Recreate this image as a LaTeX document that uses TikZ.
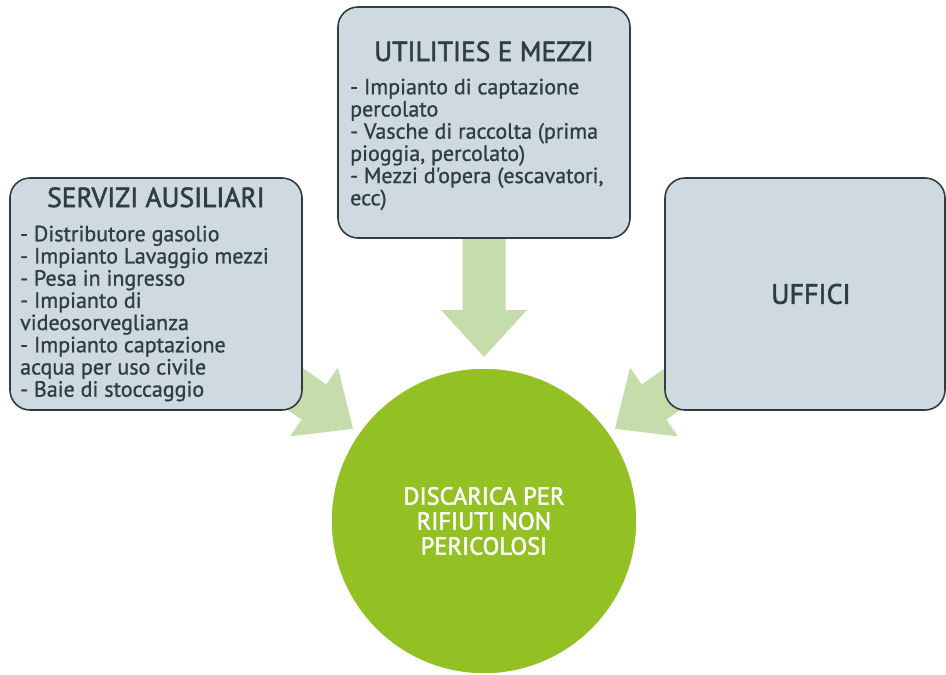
\documentclass[tikz,border=0pt]{standalone}
\usepackage{fontspec}
\setmainfont{PT Sans}
\newfontfamily\semib[FakeBold=2]{PT Sans}
\newfontfamily\itemf[FakeBold=1]{PT Sans}
\definecolor{boxfill}{HTML}{CFDAE0}
\definecolor{boxline}{HTML}{2F3D43}
\definecolor{txt}{HTML}{2F3E46}
\definecolor{arrowc}{HTML}{C5DDAA}
\definecolor{circ}{HTML}{93C123}
\begin{document}
\begin{tikzpicture}[x=1pt,y=-1pt,
  box/.style={draw=boxline, line width=1.6pt, fill=boxfill, rounded corners=20pt, inner sep=0pt},
  title/.style={font=\semib\fontsize{27.5}{30}\selectfont, text=txt, inner sep=0pt},
  items/.style={font=\itemf\fontsize{22}{22.2}\selectfont, text=txt, align=left, inner sep=0pt, anchor=north west},
  blockarrow/.style={fill=arrowc, draw=none}]
\useasboundingbox (0,0) rectangle (946,675);
% arrows
\fill[blockarrow] (484-21.5,200) -- (484+21.5,200) -- (484+21.5,310) -- (527,310) -- (484,357) -- (441,310) -- (484-21.5,310) -- cycle;
\fill[blockarrow] (194.7,345.6) -- (219.3,310.4) -- (326.3,384.4) -- (338,367.6) -- (353,428.8) -- (290,436.4) -- (301.7,419.6) -- cycle;
\fill[blockarrow] (773.3,345.6) -- (748.7,310.4) -- (641.7,384.4) -- (630,367.6) -- (615,428.8) -- (678,436.4) -- (666.3,419.6) -- cycle;
% boxes
\node[box, minimum width=292pt, minimum height=232pt] (serv) at (156,294) {};
\node[box, minimum width=292pt, minimum height=231pt] (util) at (484,122.5) {};
\node[box, minimum width=280pt, minimum height=232pt] (uff) at (805,294) {};
% circle
\node[circle, fill=circ, draw=white, line width=1.5pt, minimum size=306pt, inner sep=0pt] (disc) at (484,521) {};
% texts
\node[title, anchor=base] (servt) at (156,207) {SERVIZI AUSILIARI};
\node[items] (servi) at (20,225.5) {- Distributore gasolio\\- Impianto Lavaggio mezzi\\- Pesa in ingresso\\- Impianto di\\videosorveglianza\\- Impianto captazione\\acqua per uso civile\\- Baie di stoccaggio};
\node[title, anchor=base] (utilt) at (484,61) {UTILITIES E MEZZI};
\node[items] (utili) at (350,78.5) {- Impianto di captazione\\percolato\\- Vasche di raccolta (prima\\pioggia, percolato)\\- Mezzi d'opera (escavatori,\\ecc)};
\node[font=\semib\fontsize{28}{30}\selectfont, text=txt] (ufft) at (811,294) {UFFICI};
\node[font=\semib\fontsize{24.5}{25}\selectfont, text=white, align=center] (disct) at (484,521) {DISCARICA PER\\RIFIUTI NON\\PERICOLOSI};
\end{tikzpicture}
\end{document}
